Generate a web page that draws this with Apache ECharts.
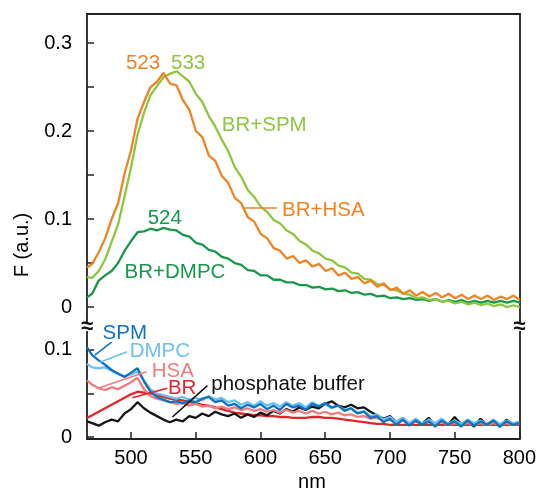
<!DOCTYPE html>
<html><head><meta charset="utf-8">
<script src="https://cdn.jsdelivr.net/npm/echarts@6/dist/echarts.min.js"></script>
<style>html,body{margin:0;padding:0;background:#fff}#c{width:539px;height:489px}</style>
</head><body><div id="c"></div>
<script>
// ---- data ----
const wavelength = [466,470,475,480,485,490,495,500,505,510,515,520,525,530,535,540,545,550,555,560,565,570,575,580,585,590,595,600,605,610,615,620,625,630,635,640,645,650,655,660,665,670,675,680,685,690,695,700,705,710,715,720,725,730,735,740,745,750,755,760,765,770,775,780,785,790,795,800];

// upper panel
const brHSA = [.045,.049,.062,.078,.100,.118,.152,.178,.214,.233,.250,.256,.266,.254,.252,.235,.224,.200,.193,.172,.166,.149,.141,.124,.118,.102,.097,.083,.078,.067,.064,.055,.058,.050,.053,.046,.049,.041,.044,.036,.039,.032,.034,.027,.030,.023,.027,.019,.022,.015,.019,.013,.017,.012,.016,.011,.015,.010,.014,.009,.013,.009,.013,.008,.012,.009,.013,.008];
const brSPM = [.034,.033,.041,.054,.074,.094,.126,.159,.196,.221,.241,.251,.261,.265,.268,.262,.256,.242,.233,.217,.205,.190,.177,.159,.148,.133,.125,.114,.108,.099,.095,.087,.083,.075,.071,.064,.061,.055,.053,.047,.045,.039,.038,.032,.031,.026,.025,.020,.019,.015,.014,.010,.011,.008,.009,.006,.007,.004,.006,.003,.005,.002,.004,.001,.003,.000,.002,.000];
const brDMPC = [.011,.015,.030,.036,.041,.050,.064,.075,.085,.086,.089,.087,.090,.088,.087,.082,.080,.073,.071,.065,.063,.057,.055,.050,.048,.042,.041,.036,.036,.031,.031,.028,.028,.025,.025,.022,.023,.020,.021,.018,.019,.016,.017,.014,.015,.012,.013,.010,.011,.009,.010,.008,.009,.007,.009,.006,.008,.006,.008,.005,.007,.005,.007,.005,.007,.005,.007,.005];

// lower panel
const SPM = [.103,.094,.088,.083,.077,.073,.069,.074,.079,.064,.052,.046,.043,.040,.041,.039,.042,.040,.044,.046,.040,.042,.036,.038,.033,.037,.034,.038,.032,.036,.031,.038,.034,.036,.031,.038,.035,.039,.034,.036,.030,.033,.027,.029,.022,.024,.017,.021,.014,.020,.013,.019,.014,.018,.012,.019,.014,.018,.012,.019,.013,.018,.014,.019,.012,.018,.014,.016];
const DMPC = [.084,.080,.079,.080,.076,.072,.070,.072,.075,.065,.055,.050,.048,.046,.044,.046,.043,.045,.042,.047,.043,.045,.040,.042,.037,.040,.036,.041,.036,.039,.035,.040,.036,.039,.034,.040,.036,.038,.033,.036,.031,.033,.028,.030,.024,.026,.020,.023,.017,.022,.016,.021,.015,.020,.016,.021,.015,.019,.015,.020,.016,.019,.015,.020,.015,.019,.016,.017];
const HSA = [.065,.060,.056,.054,.057,.055,.059,.063,.068,.055,.047,.044,.042,.040,.038,.039,.036,.038,.035,.036,.033,.035,.032,.034,.031,.033,.030,.032,.029,.031,.028,.031,.028,.030,.027,.030,.027,.029,.026,.028,.025,.026,.023,.024,.021,.022,.019,.020,.017,.019,.016,.018,.015,.017,.015,.017,.014,.016,.014,.016,.014,.016,.014,.016,.014,.016,.014,.015];
const BR = [.022,.025,.029,.033,.037,.041,.045,.049,.052,.051,.050,.048,.046,.044,.043,.042,.040,.039,.037,.036,.034,.032,.030,.028,.027,.026,.025,.025,.024,.024,.023,.023,.022,.022,.022,.023,.023,.022,.022,.021,.020,.019,.018,.017,.016,.015,.015,.014,.014,.014,.014,.014,.014,.014,.014,.014,.014,.014,.014,.014,.014,.014,.014,.014,.014,.014,.014,.014];
const phosphate = [.018,.016,.013,.017,.020,.018,.027,.032,.040,.033,.028,.024,.020,.017,.020,.018,.024,.022,.027,.024,.029,.026,.024,.027,.022,.026,.023,.028,.025,.030,.027,.032,.029,.034,.031,.035,.033,.038,.041,.036,.034,.037,.033,.034,.029,.025,.021,.024,.017,.022,.014,.020,.015,.022,.013,.019,.014,.023,.015,.019,.012,.021,.014,.018,.012,.020,.015,.017];

// tick values
const xTickValues = [500,550,600,650,700,750,800];
const yTickTop = [0,0.05,0.1,0.15,0.2,0.25,0.3];
const yLabelTop = [0,0.1,0.2,0.3];
const yTickBottom = [0,0.05,0.1];
const yLabelBottom = [0,0.1];

// ---- styling ----
const C = {
  hsa:'#EF8426', spm:'#8DC63F', dmpc:'#17984A',
  bSPM:'#1172C2', bDMPC:'#6CC2EE', bHSA:'#EE7E7E', bBR:'#E2252B', buf:'#151515'
};
const AX = '#222';
const FONT = '"Liberation Sans", Arial, Helvetica, sans-serif';

function pairs(v){ return wavelength.map((w,i)=>[w,v[i]]); }
function fmt(v){ return v===0 ? '0' : String(+v.toFixed(2)); }

const chart = echarts.init(document.getElementById('c'), null, {renderer:'canvas'});

function line(name, data, color, grid){
  return {name, type:'line', data:pairs(data), xAxisIndex:grid, yAxisIndex:grid*2,
    showSymbol:false, symbol:'none', lineStyle:{color, width:2.3}, itemStyle:{color},
    animation:false, z:2};
}

const xBase = {type:'value', min:466, max:800, splitLine:{show:false},
  axisLine:{show:true, onZero:false, lineStyle:{color:AX, width:1.8}}};

const yLeft = (min,max,ticks,labels)=>({type:'value', position:'left', min, max,
  splitLine:{show:false},
  axisLine:{show:true, onZero:false, lineStyle:{color:AX, width:1.8}},
  axisTick:{show:true, inside:true, length:7, customValues:ticks, lineStyle:{color:AX, width:1.5}},
  axisLabel:{show:true, customValues:labels, formatter:fmt, margin:15, color:'#000', fontSize:20, fontFamily:FONT}
});
const yRight = (min,max)=>({type:'value', position:'right', min, max,
  splitLine:{show:false}, axisTick:{show:false}, axisLabel:{show:false},
  axisLine:{show:true, onZero:false, lineStyle:{color:AX, width:1.8}}});

const option = {
  backgroundColor:'#fff',
  animation:false,
  grid:[
    {left:87, right:19, top:14, height:313},
    {left:87, right:19, top:327, height:112}
  ],
  xAxis:[
    Object.assign({}, xBase, {gridIndex:0, position:'top', axisTick:{show:false}, axisLabel:{show:false}}),
    Object.assign({}, xBase, {gridIndex:1, position:'bottom',
      axisTick:{show:true, inside:true, length:7, customValues:xTickValues, lineStyle:{color:AX, width:1.5}},
      axisLabel:{show:true, customValues:xTickValues, margin:9, color:'#000', fontSize:20, fontFamily:FONT}})
  ],
  yAxis:[
    Object.assign(yLeft(-0.0227, 0.333, yTickTop, yLabelTop), {gridIndex:0}),
    Object.assign(yRight(-0.0227, 0.333), {gridIndex:0}),
    Object.assign(yLeft(-0.0023, 0.1264, yTickBottom, yLabelBottom), {gridIndex:1}),
    Object.assign(yRight(-0.0023, 0.1264), {gridIndex:1})
  ],
  series:[
    line('BR+DMPC', brDMPC, C.dmpc, 0),
    line('BR+SPM', brSPM, C.spm, 0),
    line('BR+HSA', brHSA, C.hsa, 0),
    line('BR', BR, C.bBR, 1),
    line('phosphate buffer', phosphate, C.buf, 1),
    line('HSA', HSA, C.bHSA, 1),
    line('DMPC', DMPC, C.bDMPC, 1),
    line('SPM', SPM, C.bSPM, 1)
  ]
};
chart.setOption(option);

// ---- annotations, anchored in data coordinates ----
const labelsTop = [
  {text:'523', at:[509.2,0.277], color:C.hsa, align:'center'},
  {text:'533', at:[544,0.277], color:C.spm, align:'center'},
  {text:'524', at:[526,0.101], color:C.dmpc, align:'center'},
  {text:'BR+SPM', at:[570,0.206], color:C.spm, align:'left'},
  {text:'BR+HSA', at:[616.5,0.110], color:C.hsa, align:'left'},
  {text:'BR+DMPC', at:[495,0.039], color:C.dmpc, align:'left'}
];
const leadersTop = [
  {from:[586,0.1125], to:[612.6,0.1125], color:C.hsa}
];
const labelsBottom = [
  {text:'SPM', at:[478,0.1195], color:C.bSPM, align:'left'},
  {text:'DMPC', at:[499,0.098], color:C.bDMPC, align:'left'},
  {text:'HSA', at:[516,0.075], color:C.bHSA, align:'left'},
  {text:'BR', at:[528.5,0.056], color:C.bBR, align:'left'},
  {text:'phosphate buffer', at:[562,0.060], color:'#111', align:'left'}
];
const leadersBottom = [
  {from:[472,0.094], to:[485,0.109], color:C.bSPM},
  {from:[476,0.086], to:[497,0.098], color:C.bDMPC},
  {from:[474.5,0.056], to:[512,0.075], color:C.bHSA},
  {from:[501,0.045], to:[528,0.056], color:C.bBR},
  {from:[532,0.023], to:[559,0.059], color:'#111'}
];

function px(g, p){ return chart.convertToPixel({xAxisIndex:g, yAxisIndex:g*2}, p); }
const els = [];
function addLabels(list, g){
  list.forEach(l=>{
    const p = px(g, l.at);
    els.push({type:'text', x:p[0], y:p[1], z:10, silent:true,
      style:{text:l.text, fill:l.color, font:'20.5px '+FONT,
        align:l.align, verticalAlign:'middle', textAlign:l.align, textVerticalAlign:'middle'}});
  });
}
function addLeaders(list, g){
  list.forEach(l=>{
    const a = px(g, l.from), b = px(g, l.to);
    els.push({type:'line', z:10, silent:true, shape:{x1:a[0], y1:a[1], x2:b[0], y2:b[1]},
      style:{stroke:l.color, lineWidth:1.6}});
  });
}
addLabels(labelsTop, 0); addLeaders(leadersTop, 0);
addLabels(labelsBottom, 1); addLeaders(leadersBottom, 1);

// axis break marks on both sides at the panel junction
const jL = px(1, [466, 0.1264]);
const jR = px(1, [800, 0.1264]);
[jL, jR].forEach(p=>{
  els.push({type:'rect', z:11, silent:true, shape:{x:p[0]-4, y:p[1]-4, width:8, height:8}, style:{fill:'#fff'}});
  els.push({type:'text', x:p[0], y:p[1], z:12, silent:true,
    style:{text:'\u2248', fill:'#111', font:'bold 22px '+FONT, align:'center', verticalAlign:'middle', textAlign:'center', textVerticalAlign:'middle'}});
});

// axis titles
els.push({type:'text', x:312, y:482, z:10, silent:true,
  style:{text:'nm', fill:'#000', font:'20px '+FONT, align:'center', verticalAlign:'middle', textAlign:'center', textVerticalAlign:'middle'}});
els.push({type:'text', x:22, y:245, rotation:Math.PI/2, z:10, silent:true,
  style:{text:'F (a.u.)', fill:'#000', font:'20px '+FONT, align:'center', verticalAlign:'middle', textAlign:'center', textVerticalAlign:'middle'}});

chart.setOption({graphic:{elements:els}});
</script>
</body></html>
